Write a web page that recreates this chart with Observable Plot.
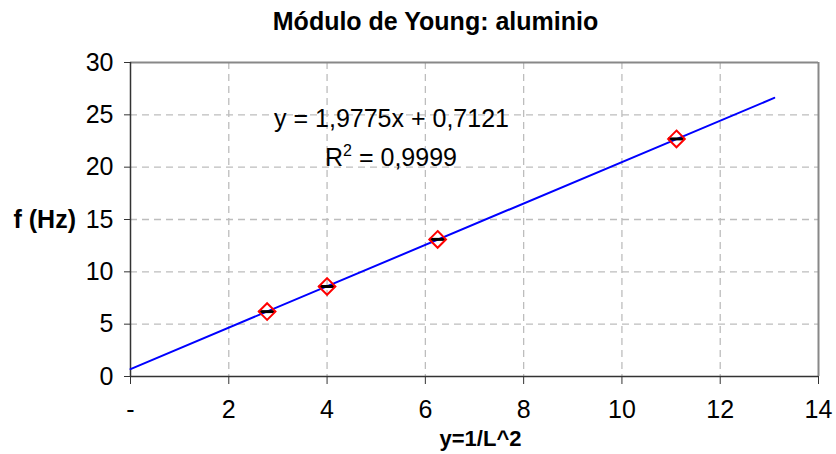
<!DOCTYPE html>
<html>
<head>
<meta charset="utf-8">
<script src="https://cdn.jsdelivr.net/npm/d3@7"></script>
<script src="https://cdn.jsdelivr.net/npm/@observablehq/plot@0.6"></script>
<style>
  body { margin: 0; background: #fff; }
  svg { font-family: "Liberation Sans", Arial, sans-serif; }
</style>
</head>
<body>
<div id="chart"></div>
<script>
const xValues = [2.78, 4, 6.25, 11.11];
const fValues = [6.2, 8.6, 13.1, 22.7];
const xErr = [0.16, 0.16, 0.16, 0.16];
const slope = 1.9775;
const intercept = 0.7121;
const trendX = [0, 13.1];
const xTicks = [0, 2, 4, 6, 8, 10, 12, 14];
const xTickLabels = ["-", "2", "4", "6", "8", "10", "12", "14"];
const yTicks = [0, 5, 10, 15, 20, 25, 30];
const title = "Módulo de Young: aluminio";
const xLabel = "y=1/L^2";
const yLabel = "f (Hz)";
const eqLine1 = "y = 1,9775x + 0,7121";

const points = xValues.map((x, i) => ({x, f: fValues[i], e: xErr[i]}));
const trend = trendX.map(x => ({x, f: slope * x + intercept}));
const FS = 25;

const chart = Plot.plot({
  width: 836,
  height: 454,
  marginTop: 62,
  marginLeft: 130,
  marginRight: 18,
  marginBottom: 78,
  style: {fontFamily: '"Liberation Sans", Arial, sans-serif', fontSize: FS + "px", color: "#000", background: "#fff"},
  x: {domain: [0, 14], ticks: xTicks, label: null},
  y: {domain: [0, 30], ticks: yTicks, label: null},
  marks: [
    Plot.gridX(xTicks.slice(1, -1), {stroke: "#bdbdbd", strokeOpacity: 1, strokeWidth: 1.3, strokeDasharray: "7,5"}),
    Plot.gridY(yTicks.slice(1, -1), {stroke: "#bdbdbd", strokeOpacity: 1, strokeWidth: 1.3, strokeDasharray: "7,5"}),
    Plot.ruleY([30], {stroke: "#888", strokeWidth: 2}),
    Plot.ruleX([14], {stroke: "#888", strokeWidth: 2}),
    Plot.axisX({ticks: xTicks, tickSize: 8, tickPadding: 16, tickFormat: (d) => xTickLabels[xTicks.indexOf(d)], fontSize: FS, label: null, stroke: "#333"}),
    Plot.axisY({ticks: yTicks, tickSize: 6, tickPadding: 11, fontSize: FS, label: null, stroke: "#333"}),
    Plot.ruleY([0], {stroke: "#333", strokeWidth: 1.5}),
    Plot.ruleX([0], {stroke: "#333", strokeWidth: 1.5}),
    Plot.line(trend, {x: "x", y: "f", stroke: "#0000ff", strokeWidth: 2}),
    Plot.ruleY(points, {y: "f", x1: d => d.x - d.e, x2: d => d.x + d.e, stroke: "#000", strokeWidth: 3}),
    Plot.dot(points, {x: "x", y: "f", symbol: "diamond2", r: 7.5, stroke: "#ff0000", strokeWidth: 2, fill: "none"}),
    Plot.text([title], {frameAnchor: "top", lineAnchor: "middle", dx: -39, dy: -41, fontWeight: "bold", fontSize: 25, fill: "#000"}),
    Plot.text([xLabel], {frameAnchor: "bottom", lineAnchor: "middle", dx: 6, dy: 62, fontWeight: "bold", fontSize: 22, fill: "#000"}),
    Plot.text([yLabel], {frameAnchor: "left", dx: -117, dy: 0, fontWeight: "bold", fontSize: FS, fill: "#000", textAnchor: "start"}),
    Plot.text([eqLine1], {frameAnchor: "top-left", lineAnchor: "middle", textAnchor: "middle", dx: 261, dy: 56, fontSize: FS, fill: "#000"})
  ]
});

// R² line with superscript as real text
const svg = d3.select(chart);
svg.append("text")
  .attr("x", 130 + 261)
  .attr("y", 62 + 96)
  .attr("text-anchor", "middle")
  .attr("dy", "0.32em")
  .attr("font-size", FS)
  .attr("fill", "#000")
  .html('R<tspan dy="-10" font-size="16">2</tspan><tspan dy="10"> = 0,9999</tspan>');

document.getElementById("chart").appendChild(chart);
</script>
</body>
</html>
